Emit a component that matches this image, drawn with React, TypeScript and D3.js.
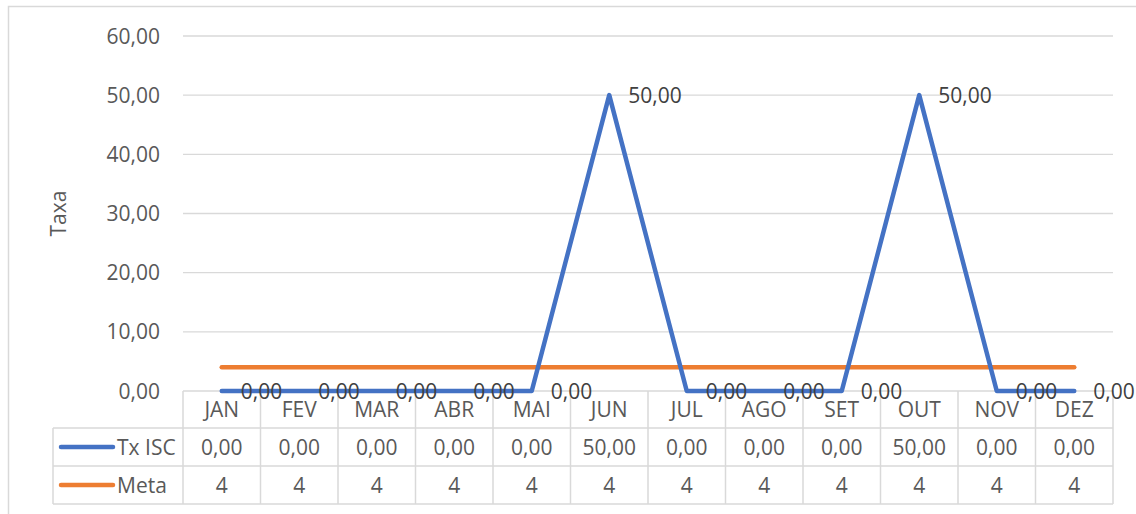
import { useEffect, useRef } from "react";
import * as d3 from "d3";

const months = ["JAN", "FEV", "MAR", "ABR", "MAI", "JUN", "JUL", "AGO", "SET", "OUT", "NOV", "DEZ"];
const txIsc = [0, 0, 0, 0, 0, 50, 0, 0, 0, 50, 0, 0];
const meta = [4, 4, 4, 4, 4, 4, 4, 4, 4, 4, 4, 4];
const yTicks = [0, 10, 20, 30, 40, 50, 60];

const W = 1136;
const H = 514;
const BLUE = "#4472C4";
const ORANGE = "#ED7D31";
const GRID = "#d9d9d9";
const TEXT = "#595959";
const FONT = "'Open Sans', sans-serif";
const FS = 21;

const fmt = (v: number) => v.toFixed(2).replace(".", ",");

export default function App() {
  const svgRef = useRef<SVGSVGElement>(null);

  useEffect(() => {
    if (!svgRef.current) return;
    const svg = d3.select(svgRef.current);
    svg.selectAll("*").remove();

    const left = 183;
    const right = 1113;
    const top = 36;
    const bottom = 391;
    const tableLeft = 53;
    const rowH = [391, 428, 466, 504];

    const x = d3.scaleBand<string>().domain(months).range([left, right]);
    const y = d3.scaleLinear().domain([0, 60]).range([bottom, top]);
    const cx = (m: string) => (x(m) || 0) + x.bandwidth() / 2;

    // outer frame
    svg.append("rect")
      .attr("x", 8.5).attr("y", 6.5)
      .attr("width", W + 10).attr("height", H + 10)
      .attr("fill", "white").attr("stroke", GRID).attr("stroke-width", 1.5);

    // grid lines
    svg.append("g")
      .selectAll("line")
      .data(yTicks.filter((t) => t > 0))
      .join("line")
      .attr("x1", left).attr("x2", right)
      .attr("y1", (d) => y(d)).attr("y2", (d) => y(d))
      .attr("stroke", GRID).attr("stroke-width", 1.3);

    // y tick labels
    svg.append("g")
      .selectAll("text")
      .data(yTicks)
      .join("text")
      .attr("x", 160).attr("y", (d) => y(d) + 7.5)
      .attr("text-anchor", "end")
      .attr("fill", TEXT).attr("font-family", FONT).attr("font-size", FS)
      .text((d) => fmt(d));

    // y axis title
    svg.append("text")
      .attr("transform", `translate(66, ${(top + bottom) / 2}) rotate(-90)`)
      .attr("text-anchor", "middle")
      .attr("fill", TEXT).attr("font-family", FONT).attr("font-size", FS)
      .text("Taxa");

    // data table grid
    const tg = svg.append("g").attr("stroke", GRID).attr("stroke-width", 1.5);
    tg.append("line").attr("x1", left).attr("x2", right).attr("y1", rowH[0]).attr("y2", rowH[0]);
    [1, 2, 3].forEach((i) => {
      tg.append("line").attr("x1", tableLeft).attr("x2", right).attr("y1", rowH[i]).attr("y2", rowH[i]);
    });
    tg.append("line").attr("x1", tableLeft).attr("x2", tableLeft).attr("y1", rowH[1]).attr("y2", rowH[3]);
    const colEdges = months.map((m) => x(m) || 0).concat([right]);
    tg.selectAll("line.col")
      .data(colEdges)
      .join("line")
      .attr("class", "col")
      .attr("x1", (d) => d).attr("x2", (d) => d)
      .attr("y1", rowH[0]).attr("y2", rowH[3]);

    // month labels
    svg.append("g")
      .selectAll("text")
      .data(months)
      .join("text")
      .attr("x", (d) => cx(d)).attr("y", (rowH[0] + rowH[1]) / 2 + 7.5)
      .attr("text-anchor", "middle")
      .attr("fill", TEXT).attr("font-family", FONT).attr("font-size", FS)
      .text((d) => d);

    const rows = [
      { name: "Tx ISC", color: BLUE, values: txIsc.map(fmt) },
      { name: "Meta", color: ORANGE, values: meta.map(String) },
    ];
    rows.forEach((r, i) => {
      const my = (rowH[i + 1] + rowH[i + 2]) / 2;
      svg.append("line")
        .attr("x1", 61).attr("x2", 113).attr("y1", my).attr("y2", my)
        .attr("stroke", r.color).attr("stroke-width", 4.5).attr("stroke-linecap", "round");
      svg.append("text")
        .attr("x", 117).attr("y", my + 7.5)
        .attr("fill", TEXT).attr("font-family", FONT).attr("font-size", FS)
        .text(r.name);
      svg.append("g")
        .selectAll("text")
        .data(r.values)
        .join("text")
        .attr("x", (_d, j) => cx(months[j])).attr("y", my + 7.5)
        .attr("text-anchor", "middle")
        .attr("fill", TEXT).attr("font-family", FONT).attr("font-size", FS)
        .text((d) => d);
    });

    // lines
    const line = d3.line<number>()
      .x((_d, i) => cx(months[i]))
      .y((d) => y(d));

    svg.append("path")
      .attr("d", line(meta))
      .attr("fill", "none").attr("stroke", ORANGE).attr("stroke-width", 4.5)
      .attr("stroke-linecap", "round").attr("stroke-linejoin", "round");

    svg.append("path")
      .attr("d", line(txIsc))
      .attr("fill", "none").attr("stroke", BLUE).attr("stroke-width", 4.5)
      .attr("stroke-linecap", "round").attr("stroke-linejoin", "round");

    // data labels
    svg.append("g")
      .selectAll("text")
      .data(txIsc)
      .join("text")
      .attr("x", (_d, i) => cx(months[i]) + 19).attr("y", (d) => y(d) + 7.5)
      .attr("fill", "#404040").attr("font-family", FONT).attr("font-size", FS)
      .text((d) => fmt(d));
  }, []);

  return (
    <svg
      ref={svgRef}
      width={W}
      height={H}
      style={{ position: "absolute", left: 0, top: 0, display: "block", background: "white" }}
    />
  );
}
